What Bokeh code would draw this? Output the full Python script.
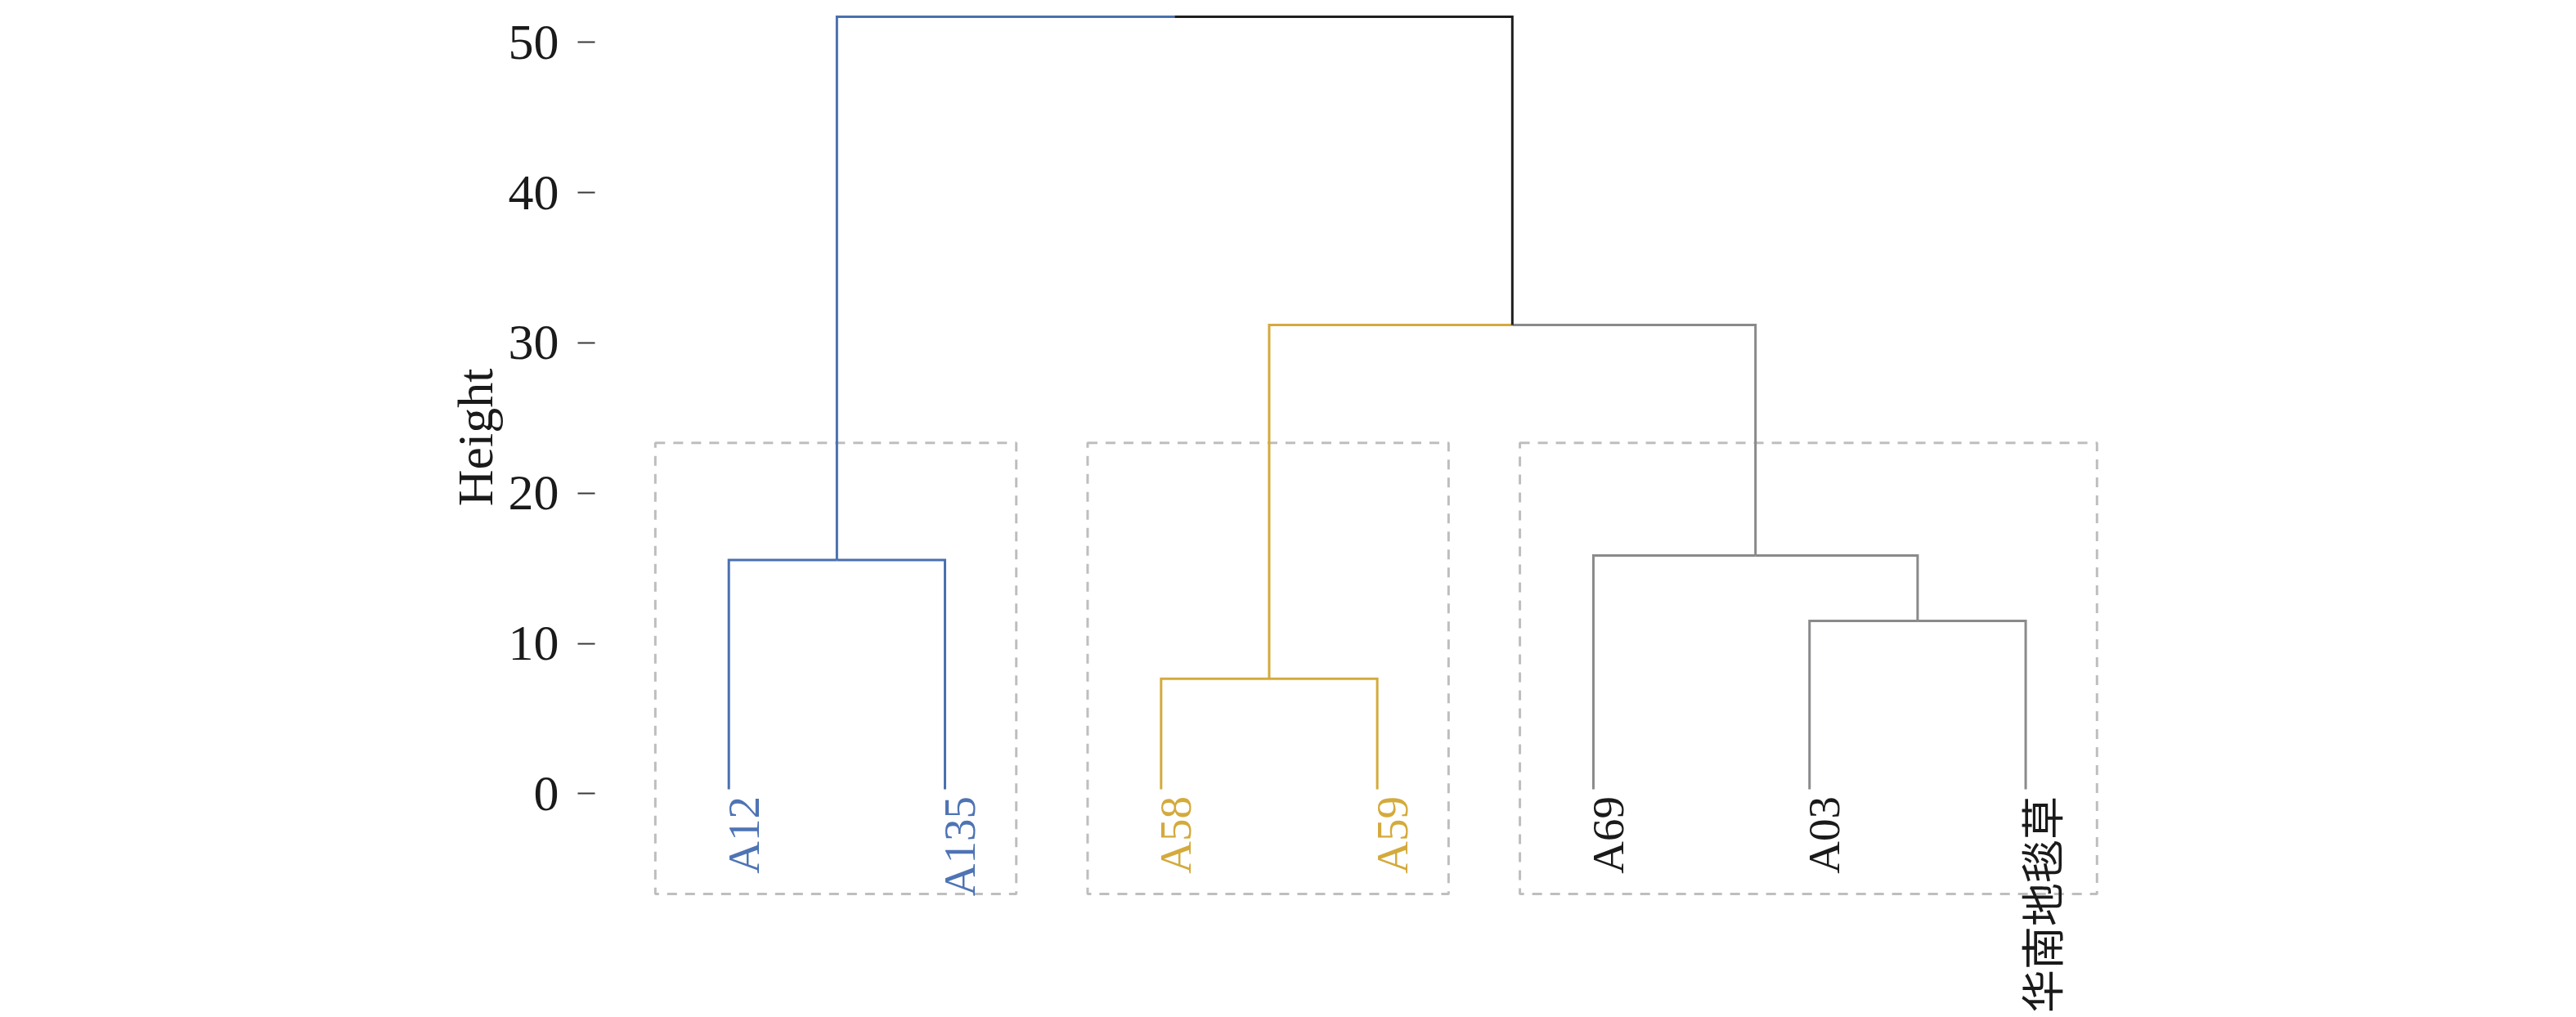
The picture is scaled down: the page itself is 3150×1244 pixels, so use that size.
import math
from bokeh.plotting import figure
from bokeh.models import Range1d, FixedTicker, Title, ColumnDataSource
from bokeh.embed import file_html
from bokeh.resources import INLINE

# ---------------- data ----------------
leaf_labels = ["A12", "A135", "A58", "A59", "A69", "A03", "华南地毯草"]
leaf_cluster = [0, 0, 1, 1, 2, 2, 2]
# hclust-style merge table: negative = leaf (1-based, in plotted order), positive = earlier merge
merge_left = [-1, -3, -6, -5, 2, 1]
merge_right = [-2, -4, -7, 3, 4, 5]
merge_height = [15.55, 7.65, 11.5, 15.85, 31.2, 51.7]
leaf_height = 0.3
cluster_line_colors = ["#4A70AE", "#D4AA3C", "#8A8A8C"]
cluster_label_colors = ["#4E74B4", "#D4AA3C", "#1A1A1A"]
unclustered_color = "#1E1E1E"
rect_left = [0.66, 2.66, 4.66]
rect_right = [2.33, 4.33, 7.33]
rect_top = 23.35
rect_bottom = -6.66
y_ticks = [0, 10, 20, 30, 40, 50]

# ---------------- dendrogram geometry ----------------
node_x = []
node_clusters = []


def node_info(ref):
    if ref < 0:
        i = -ref - 1
        return i + 1.0, leaf_height, {leaf_cluster[i]}
    k = ref - 1
    return node_x[k], merge_height[k], node_clusters[k]


edge_xs, edge_ys, edge_col = [], [], []
for k in range(len(merge_height)):
    lx, lh, lc = node_info(merge_left[k])
    rx, rh, rc = node_info(merge_right[k])
    px = (lx + rx) / 2.0
    ph = merge_height[k]
    node_x.append(px)
    node_clusters.append(lc | rc)
    for cx, ch, cc in ((lx, lh, lc), (rx, rh, rc)):
        edge_xs.append([px, cx, cx])
        edge_ys.append([ph, ph, ch])
        edge_col.append(cluster_line_colors[next(iter(cc))] if len(cc) == 1 else unclustered_color)

edges = ColumnDataSource(dict(xs=edge_xs, ys=edge_ys, color=edge_col))

is_cjk = [any(ord(ch) > 127 for ch in s) for s in leaf_labels]
labels = ColumnDataSource(dict(
    x=[i + 1.0 for i in range(len(leaf_labels))],
    y=[0.0] * len(leaf_labels),
    text=leaf_labels,
    color=[cluster_label_colors[c] for c in leaf_cluster],
    font=["Noto Sans CJK SC" if c else "Liberation Serif" for c in is_cjk],
    size=["53px" if c else "55px" for c in is_cjk],
))

# ---------------- figure ----------------
p = figure(
    width=3150, height=1244,
    x_range=Range1d(0.3806, 9.548),
    y_range=Range1d(-14.88, 52.79),
    x_axis_location=None,
    toolbar_location=None,
    output_backend="svg",
    min_border_left=727, min_border_right=0, min_border_top=0, min_border_bottom=0,
)
p.outline_line_color = None
p.xgrid.grid_line_color = None
p.ygrid.grid_line_color = None
p.background_fill_color = "white"
p.border_fill_color = "white"

ax = p.yaxis[0]
ax.ticker = FixedTicker(ticks=y_ticks, minor_ticks=[])
ax.axis_line_color = None
ax.major_tick_out = 21
ax.major_tick_in = 0
ax.major_tick_line_color = "#3A3A3A"
ax.major_tick_line_width = 2
ax.minor_tick_line_color = None
ax.major_label_standoff = 23
ax.major_label_text_font = "Liberation Serif"
ax.major_label_text_font_size = "62px"
ax.major_label_text_color = "#1A1A1A"

# cluster rectangles
p.quad(left=rect_left, right=rect_right,
       top=[rect_top] * len(rect_left), bottom=[rect_bottom] * len(rect_left),
       fill_color=None, line_color="#BEBEBE", line_width=3, line_dash="12 10")

# branches
p.multi_line(xs="xs", ys="ys", line_color="color", line_width=3,
             line_join="miter", line_cap="butt", source=edges)

# leaf labels
p.text(x="x", y="y", text="text", source=labels, angle=math.pi / 2,
       text_align="right", text_baseline="alphabetic", x_offset=18, y_offset=3,
       text_font="font", text_font_size="size", text_color="color")

# y axis title (as a left-side title so it can be shifted along the axis)
p.add_layout(Title(text="Height", align="right", offset=450, standoff=8,
                   text_font="Liberation Serif", text_font_size="62px",
                   text_font_style="normal", text_color="#1A1A1A"), "left")

open("out.html", "w").write(file_html(p, INLINE))
